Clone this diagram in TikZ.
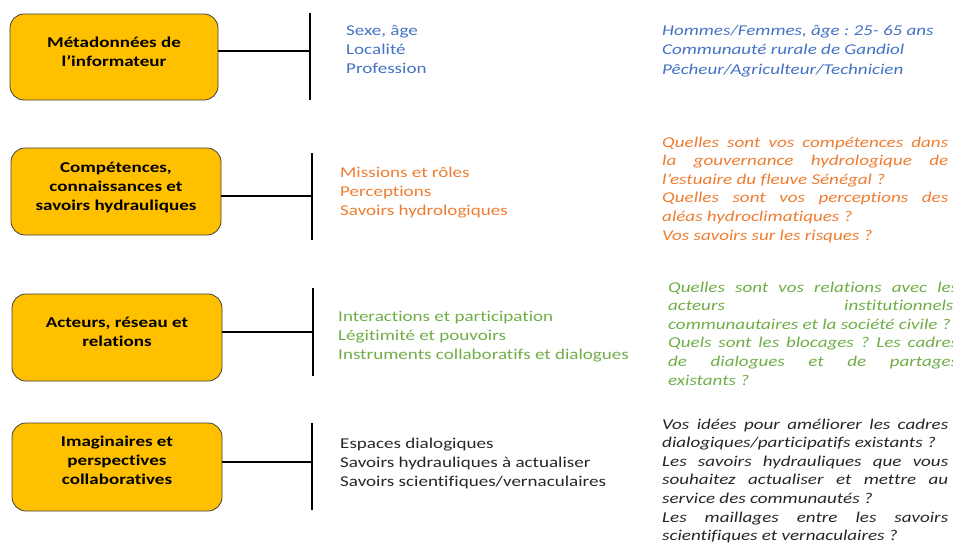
\documentclass[tikz,border=0pt]{standalone}
\usepackage{fontspec}
\setmainfont{Carlito}[FakeStretch=1.27,Ligatures=NoCommon]
\frenchspacing
\definecolor{boxfill}{HTML}{FFC000}
\definecolor{boxborder}{HTML}{404040}
\definecolor{blueT}{HTML}{4472C4}
\definecolor{orangeT}{HTML}{ED7D31}
\definecolor{greenT}{HTML}{70AD47}
\definecolor{darkT}{HTML}{262626}
\newcommand{\qpar}[2]{\parbox[t]{#1}{\setlength{\parindent}{0pt}\setlength{\emergencystretch}{0pt}\hbadness=10000 #2}}
\begin{document}
\begin{tikzpicture}[x=1pt,y=-1pt,
  catbox/.style={draw=boxborder, line width=0.8pt, fill=boxfill, rounded corners=14pt, inner sep=0pt},
  boxtext/.style={font=\bfseries\fontsize{15}{19}\selectfont, align=center, text=black, inner sep=0pt},
  link/.style={line width=2pt, black},
  bar/.style={line width=2.5pt, black},
  mid/.style={anchor=base west, inner sep=0pt, font=\fontsize{15}{19}\selectfont},
  quest/.style={anchor=base west, inner sep=0pt, font=\itshape\fontsize{15}{18.6}\selectfont}]
\useasboundingbox (0,0) rectangle (953,542);
% boxes
\node[catbox, minimum width=208pt, minimum height=86pt] (b1) at (114,57) {};
\node[catbox, minimum width=210pt, minimum height=87pt] (b2) at (116,191.5) {};
\node[catbox, minimum width=210pt, minimum height=87pt] (b3) at (117,337.5) {};
\node[catbox, minimum width=210pt, minimum height=88pt] (b4) at (117,467) {};
\node[boxtext] (t1) at ([yshift=5pt]b1.center) {Métadonnées de\\l’informateur};
\node[boxtext] (t2) at ([yshift=4.5pt]b2.center) {Compétences,\\connaissances et\\savoirs hydrauliques};
\node[boxtext] (t3) at ([yshift=6pt]b3.center) {Acteurs, réseau et\\relations};
\node[boxtext] (t4) at ([yshift=7pt]b4.center) {Imaginaires et\\perspectives\\collaboratives};
% bars
\coordinate (u1) at (310,13); \coordinate (d1) at (310,100); \coordinate (j1) at (310,51);
\coordinate (u2) at (312,153); \coordinate (d2) at (312,240); \coordinate (j2) at (312,196);
\coordinate (u3) at (313,288); \coordinate (d3) at (313,376); \coordinate (j3) at (313,332);
\coordinate (u4) at (312,423); \coordinate (d4) at (312,510); \coordinate (j4) at (312,462);
\foreach \i in {1,2,3,4}{
  \draw[bar] (u\i) -- (d\i);
  \draw[link] (b\i.east |- j\i) -- (j\i);
}
% middle texts
\node[mid, text=blueT] (m1) at (346,35) {\parbox[t]{250pt}{Sexe, âge\\Localité\\Profession}};
\node[mid, text=orangeT] (m2) at (340,177) {\parbox[t]{250pt}{Missions et rôles\\Perceptions\\Savoirs hydrologiques}};
\node[mid, text=greenT] (m3) at (338,321) {\parbox[t]{300pt}{Interactions et participation\\Légitimité et pouvoirs\\Instruments collaboratifs et dialogues}};
\node[mid, text=darkT] (m4) at (340,448) {\parbox[t]{300pt}{Espaces dialogiques\\Savoirs hydrauliques à actualiser\\Savoirs scientifiques/vernaculaires}};
% right texts
\node[quest, text=blueT, font=\itshape\fontsize{15}{19.5}\selectfont] (q1) at (662,35) {\parbox[t]{290pt}{Hommes/Femmes, âge : 25- 65 ans\\Communauté rurale de Gandiol\\Pêcheur/Agriculteur/Technicien}};
\node[quest, text=orangeT] (q2) at (662,147) {\qpar{286pt}{Quelles sont vos compétences dans\linebreak la gouvernance hydrologique de\linebreak l’estuaire du fleuve Sénégal ?\par Quelles sont vos perceptions des\linebreak aléas hydroclimatiques ?\par Vos savoirs sur les risques ?}};
\node[quest, text=greenT] (q3) at (668,292) {\qpar{290pt}{Quelles sont vos relations avec les\linebreak acteurs institutionnels,\linebreak communautaires et la société civile ?\par Quels sont les blocages ? Les cadres\linebreak de dialogues et de partages\linebreak existants ?}};
\node[quest, text=darkT] (q4) at (662,429) {\qpar{286pt}{Vos idées pour améliorer les cadres\linebreak dialogiques/participatifs existants ?\par Les savoirs hydrauliques que vous\linebreak souhaitez actualiser et mettre au\linebreak service des communautés ?\par Les maillages entre les savoirs\linebreak scientifiques et vernaculaires ?}};
\end{tikzpicture}
\end{document}
